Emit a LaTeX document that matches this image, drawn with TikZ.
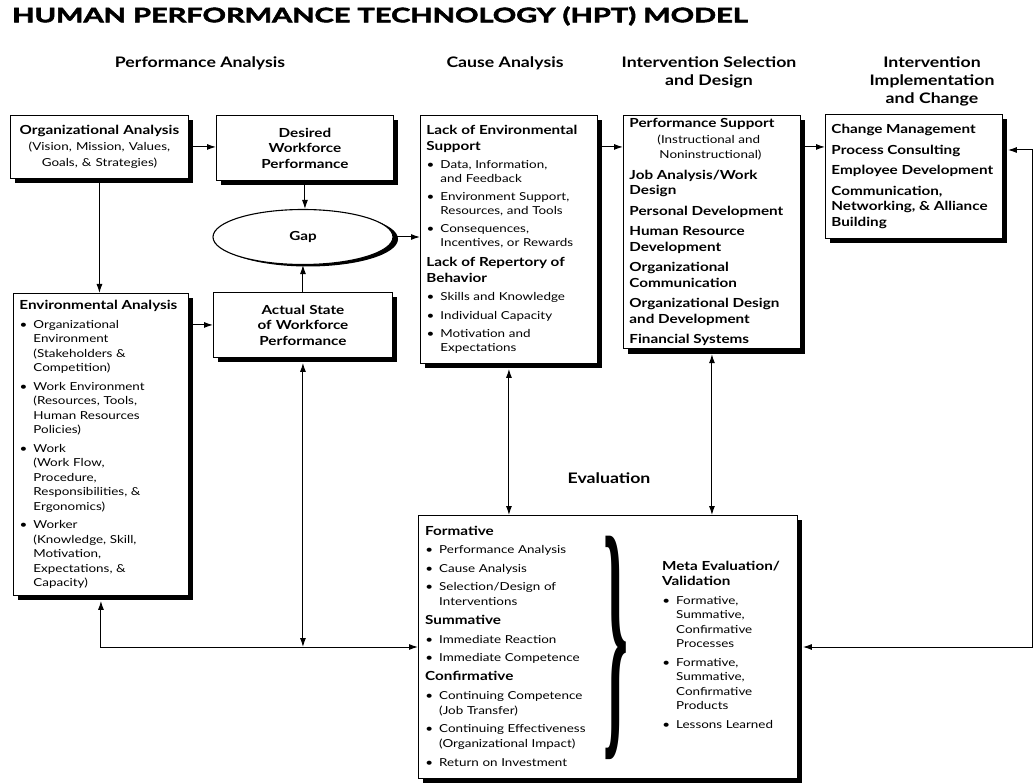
\documentclass[tikz,border=0pt]{standalone}
\usepackage{fontspec}
\usepackage{graphicx}
\setmainfont{Lato}[UprightFeatures={FakeStretch=1.22},BoldFeatures={FakeStretch=1.22}]
\newfontfamily\titlefont{Lato}[BoldFeatures={FakeStretch=1.45,FakeBold=3}]
\newfontfamily\bracefont{Liberation Serif}
\usetikzlibrary{arrows.meta,shapes.geometric,shadows}

% bold heading and bullet line inside the boxes
\newcommand{\hd}[1]{{\bfseries\fontsize{12.5}{15.5}\selectfont #1\par}}
\newcommand{\bl}[1]{{\leftskip=14pt\noindent\llap{\textbullet\hspace{6pt}}#1\par}}

\begin{document}
\begin{tikzpicture}[x=1pt,y=-1pt,
    box/.style={draw, line width=0.9pt, fill=white, anchor=north west,
      inner xsep=6pt, inner ysep=3pt,
      drop shadow={shadow xshift=5pt, shadow yshift=-5pt, opacity=1, fill=black}},
    cbox/.style={box, align=center, font=\bfseries\fontsize{12.5}{15.5}\selectfont},
    lbox/.style={box, align=left, font=\fontsize{11}{13.5}\selectfont\setlength{\parskip}{5pt}},
    sect/.style={font=\bfseries\fontsize{14.5}{18}\selectfont, align=center},
    arr/.style={-{Latex[length=9pt,width=6pt]}, line width=1pt},
    twoway/.style={{Latex[length=9pt,width=6pt]}-{Latex[length=9pt,width=6pt]}, line width=1pt}]
  \useasboundingbox (0,0) rectangle (1036,783);

  \node[anchor=west, inner sep=0pt, font=\titlefont\bfseries\fontsize{20}{20}\selectfont] (title) at (12,16)
    {HUMAN PERFORMANCE TECHNOLOGY (HPT) MODEL};

  % phase labels
  \node[sect] (lperf) at (200,63) {Performance Analysis};
  \node[sect] (lcause) at (505,63) {Cause Analysis};
  \node[sect] (lsel) at (709,72) {Intervention Selection\\and Design};
  \node[sect] (limpl) at (932,81) {Intervention\\Implementation\\and Change};
  \node[sect] (leval) at (609,478) {Evaluation};

  % performance analysis
  \node[cbox, text width=166pt, minimum width=178pt, minimum height=63pt] (org) at (10,115)
    {Organizational Analysis\\{\mdseries\fontsize{11}{16}\selectfont(Vision, Mission, Values,\\Goals, \& Strategies)}};
  \node[cbox, text width=165pt, minimum width=177pt, minimum height=65pt] (desired) at (216,115)
    {Desired\\Workforce\\Performance};
  \node[draw, ellipse, line width=1.1pt, fill=white, minimum width=180pt, minimum height=55pt,
    font=\bfseries\fontsize{12.5}{15.5}\selectfont,
    drop shadow={shadow xshift=5pt, shadow yshift=-2pt, opacity=1, fill=black}] (gap) at (303,237) {Gap};
  \node[cbox, text width=167pt, minimum width=179pt, minimum height=65pt] (actual) at (213,292)
    {Actual State\\of Workforce\\Performance};
  \node[lbox, text width=163pt, minimum width=175pt, minimum height=302pt,
    font=\fontsize{11}{14.5}\selectfont\setlength{\parskip}{4pt}] (env) at (13,293) {%
    \hd{Environmental Analysis}
    \bl{Organizational\\Environment\\(Stakeholders \&\\Competition)}
    \bl{Work Environment\\(Resources, Tools,\\Human Resources\\Policies)}
    \bl{Work\\(Work Flow,\\Procedure,\\Responsibilities, \&\\Ergonomics)}
    \bl{Worker\\(Knowledge, Skill,\\Motivation,\\Expectations, \&\\Capacity)}};

  % cause analysis
  \node[lbox, text width=165pt, minimum width=177pt, minimum height=248pt] (lack) at (420,115) {%
    \hd{Lack of Environmental\\Support}
    \bl{Data, Information,\\and Feedback}
    \bl{Environment Support,\\Resources, and Tools}
    \bl{Consequences,\\Incentives, or Rewards}
    \hd{Lack of Repertory of\\Behavior}
    \bl{Skills and Knowledge}
    \bl{Individual Capacity}
    \bl{Motivation and\\Expectations}};

  % intervention selection and design
  \node[lbox, text width=165pt, minimum width=177pt, minimum height=233pt] (perf) at (623,115) {%
    \hd{Performance Support\\{\mdseries\fontsize{11}{15.5}\selectfont\hspace*{28pt}(Instructional and\\\hspace*{30pt}Noninstructional)}}
    \hd{Job Analysis/Work\\Design}
    \hd{Personal Development}
    \hd{Human Resource\\Development}
    \hd{Organizational\\Communication}
    \hd{Organizational Design\\and Development}
    \hd{Financial Systems}};

  % intervention implementation and change
  \node[lbox, text width=165pt, minimum width=177pt, minimum height=124pt] (change) at (825,114) {%
    \hd{Change Management}
    \hd{Process Consulting}
    \hd{Employee Development}
    \hd{Communication,\\Networking, \& Alliance\\Building}};

  % evaluation
  \node[box, minimum width=379pt, minimum height=263pt] (eval) at (418,515) {};
  \node[anchor=north west, inner sep=0pt, text width=175pt, align=left,
    font=\fontsize{11}{15}\selectfont\setlength{\parskip}{3.5pt}] (formative) at (425,526) {%
    \hd{Formative}
    \bl{Performance Analysis}
    \bl{Cause Analysis}
    \bl{Selection/Design of\\Interventions}
    \hd{Summative}
    \bl{Immediate Reaction}
    \bl{Immediate Competence}
    \hd{Confirmative}
    \bl{Continuing Competence\\(Job Transfer)}
    \bl{Continuing Effectiveness\\(Organizational Impact)}
    \bl{Return on Investment}};
  \node[inner sep=0pt] (brace) at (616,648)
    {\bracefont\bfseries\fontsize{60}{60}\selectfont\scalebox{1.05}[4.5]{\}}};
  \node[anchor=north west, inner sep=0pt, text width=125pt, align=left,
    font=\fontsize{11}{14.5}\selectfont\setlength{\parskip}{4pt}] (meta) at (662,561) {%
    \hd{Meta Evaluation/\\Validation}
    \bl{Formative,\\Summative,\\Confirmative\\Processes}
    \bl{Formative,\\Summative,\\Confirmative\\Products}
    \bl{Lessons Learned}};

  % connectors
  \coordinate (rtop) at (1032,150);
  \coordinate (rbot) at (1032,647);
  \draw[arr] (org.east) -- (org.east -| desired.west);
  \draw[arr] (org.south) -- (org.south |- env.north);
  \draw[arr] (desired.south) -- (desired.south |- gap.north);
  \draw[arr] (actual.north) -- (actual.north |- gap.south);
  \draw[arr] (env.east |- actual) -- (actual);
  \draw[arr] (gap) -- (gap -| lack.west);
  \draw[arr] (lack.east |- org) -- (perf.west |- org);
  \draw[arr] (perf.east |- org) -- (change.west |- org);
  \draw[twoway] ([xshift=5pt]change.east |- rtop) -- (rtop) -- (rbot) -- ([xshift=5pt]eval.east |- rbot);
  \draw[twoway] ([yshift=-5pt]env.south) -- (env.south |- rbot) -- (eval.west |- rbot);
  \draw[twoway] ([yshift=-5pt]actual.south) -- (actual.south |- rbot);
  \draw[twoway] ([yshift=-5pt]lack.south) -- (lack.south |- eval.north);
  \draw[twoway] ([yshift=-5pt]perf.south) -- (perf.south |- eval.north);
\end{tikzpicture}
\end{document}
